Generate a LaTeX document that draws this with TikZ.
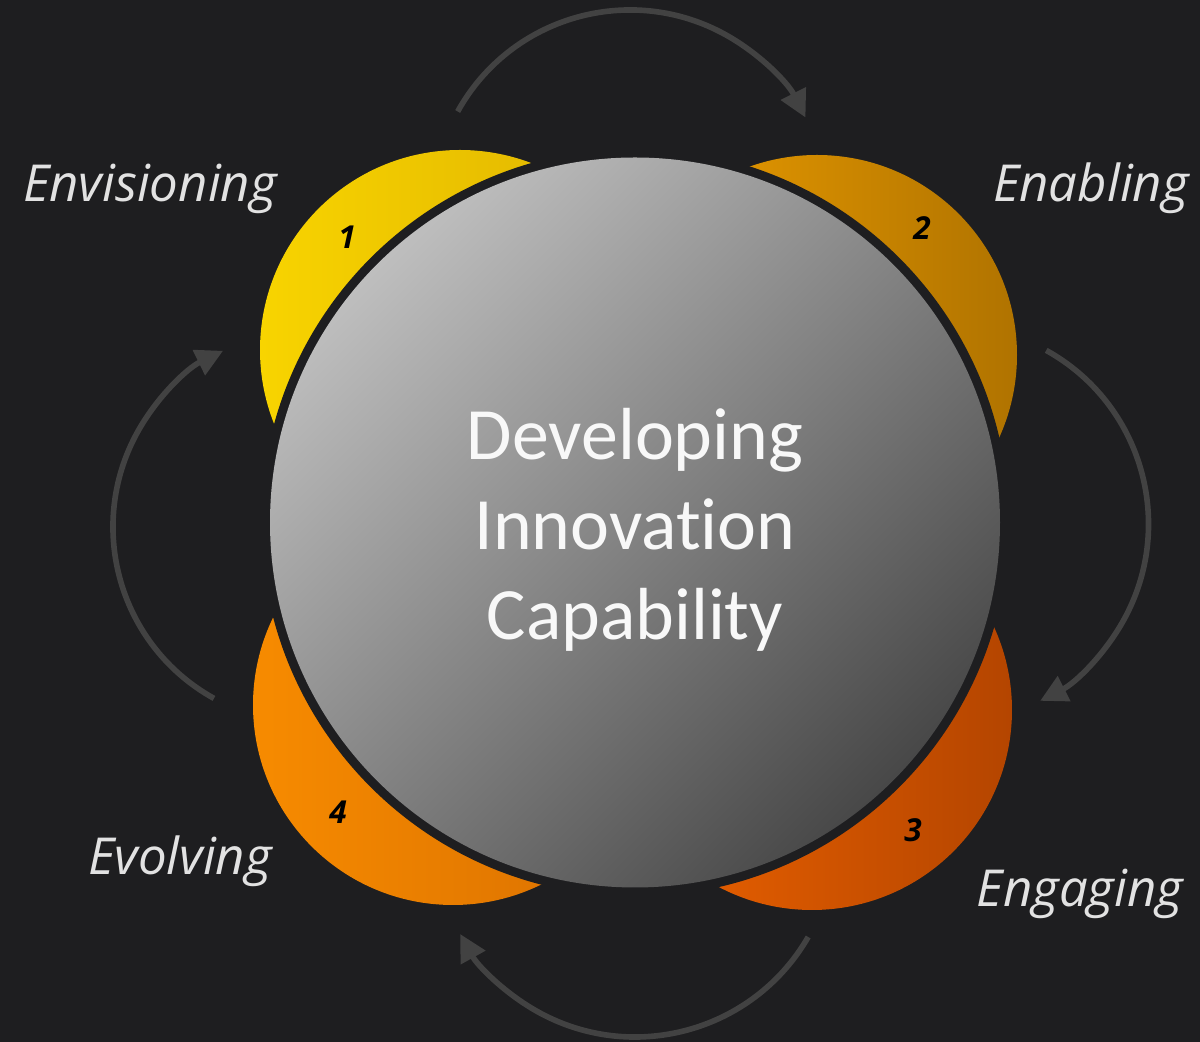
\documentclass[tikz,border=0pt]{standalone}
\usepackage{fontspec}
\setmainfont{Carlito}[Ligatures=NoCommon]
\newfontfamily\handfont{Open Sans}
\usepackage{tikz}
\usetikzlibrary{arrows.meta,calc}

\definecolor{bgdark}{HTML}{1E1E20}
\definecolor{arcgray}{HTML}{424242}
\definecolor{labelgray}{HTML}{E2E2E2}

\tikzset{
  stagelabel/.style={text=labelgray,font=\handfont\itshape\fontsize{14.5}{17}\selectfont,anchor=base},
  stagenum/.style={text=black,font=\handfont\bfseries\itshape\fontsize{9}{10}\selectfont},
  cyclearc/.style={draw=arcgray,line width=1.6pt,-{Triangle[length=0.27cm,width=0.27cm]}}
}

\begin{document}
\begin{tikzpicture}
\useasboundingbox (0,0) rectangle (12,10.42);
\fill[bgdark] (0,0) rectangle (12,10.42);
\coordinate (hub) at (6.35,5.195);
\coordinate (stage1) at (4.60,6.92);
\coordinate (stage2) at (8.17,6.87);
\coordinate (stage3) at (8.12,3.32);
\coordinate (stage4) at (4.53,3.37);
\coordinate (arcTop) at (6.30,8.35);
\coordinate (arcRight) at (9.50,5.18);
\coordinate (arcBottom) at (6.35,2.05);
\coordinate (arcLeft) at (3.09,5.15);

% the four stage discs
\shade[left color={rgb,255:red,248;green,212;blue,0},right color={rgb,255:red,221;green,176;blue,0}] (stage1) circle (2);
\shade[left color={rgb,255:red,240;green,160;blue,0},right color={rgb,255:red,176;green,115;blue,0}] (stage2) circle (2);
\shade[left color={rgb,255:red,240;green,100;blue,0},right color={rgb,255:red,180;green,69;blue,0}] (stage3) circle (2);
\shade[left color={rgb,255:red,247;green,139;blue,0},right color={rgb,255:red,216;green,110;blue,0}] (stage4) circle (2);

% hub
\fill[bgdark] (hub) circle (3.74);
\shade[top color={rgb,255:red,190;green,190;blue,190},bottom color={rgb,255:red,72;green,72;blue,72},shading angle=45] (hub) circle (3.65);
\node[text={rgb,255:red,248;green,248;blue,248},align=center,font=\fontsize{21}{25.6}\selectfont] (core) at (6.35,5.12) {Developing\\Innovation\\Capability};

% arrows round the cycle
\draw[cyclearc] ([shift={(151:1.97)}]arcTop) arc[start angle=151,end angle=27,radius=1.97];
\draw[cyclearc] ([shift={(61:1.985)}]arcRight) arc[start angle=61,end angle=-63,radius=1.985];
\draw[cyclearc] ([shift={(-30:2)}]arcBottom) arc[start angle=-30,end angle=-151,radius=2];
\draw[cyclearc] ([shift={(241:1.96)}]arcLeft) arc[start angle=241,end angle=116,radius=1.96];

% labels
\node[stagelabel] (envisioning) at (1.50,8.40) {Envisioning};
\node[stagelabel] (enabling) at (10.91,8.40) {Enabling};
\node[stagelabel] (engaging) at (10.80,1.35) {Engaging};
\node[stagelabel] (evolving) at (1.80,1.67) {Evolving};
\node[stagenum] (num1) at (3.47,8.05) {1};
\node[stagenum] (num2) at (9.22,8.14) {2};
\node[stagenum] (num3) at (9.13,2.12) {3};
\node[stagenum] (num4) at (3.38,2.30) {4};
\end{tikzpicture}
\end{document}
